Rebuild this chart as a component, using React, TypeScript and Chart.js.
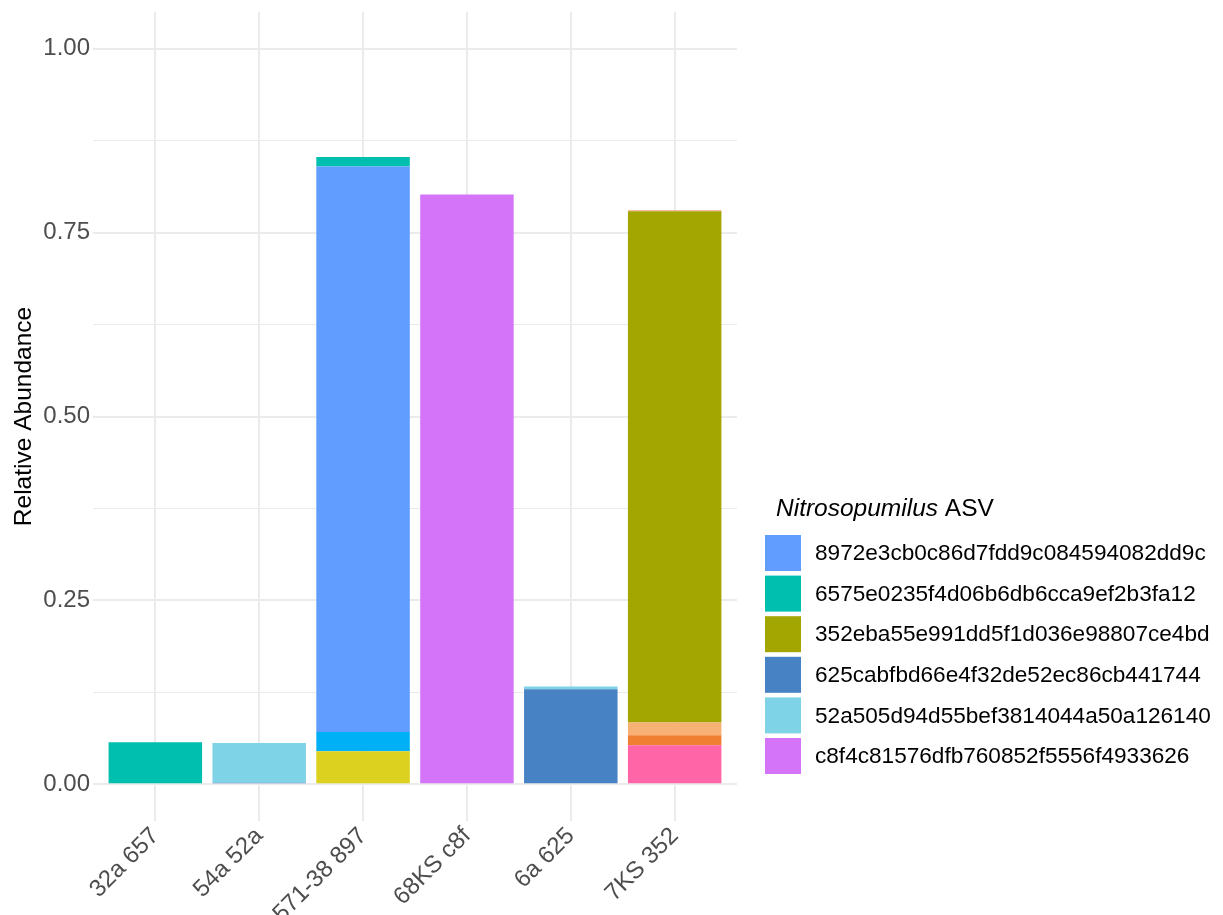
import React, { useEffect, useRef } from "react";
import { Chart, registerables } from "chart.js";

Chart.register(...registerables);

const FONT = "'Liberation Sans', Arial, Helvetica, sans-serif";

// Samples along the x axis
const samples = ["32a 657", "54a 52a", "571-38 897", "68KS c8f", "6a 625", "7KS 352"];

// Relative abundance per ASV, one value per sample (stacked bottom to top)
const otherA = [0, 0, 0.045, 0, 0, 0];
const otherB = [0, 0, 0, 0, 0, 0.053];
const otherC = [0, 0, 0, 0, 0, 0.0135];
const otherD = [0, 0, 0, 0, 0, 0.0175];
const otherE = [0, 0, 0.026, 0, 0, 0];
const asv625 = [0, 0.002, 0, 0, 0.129, 0];
const asv52a = [0, 0.054, 0, 0, 0.004, 0];
const asvC8f = [0, 0, 0, 0.802, 0, 0];
const asv352 = [0, 0, 0, 0, 0, 0.695];
const asv8972 = [0, 0, 0.769, 0, 0, 0];
const asv6575 = [0.057, 0, 0.013, 0, 0, 0];
const otherF = [0, 0, 0, 0, 0, 0.0015];

// Y axis ticks (major labelled, minor between)
const yTicks = [0, 0.125, 0.25, 0.375, 0.5, 0.625, 0.75, 0.875, 1];
const yLabelled = [0, 0.25, 0.5, 0.75, 1];

const legendTitleItalic = "Nitrosopumilus";
const legendTitleRest = " ASV";
const legendItems = [
  "8972e3cb0c86d7fdd9c084594082dd9c",
  "6575e0235f4d06b6db6cca9ef2b3fa12",
  "352eba55e991dd5f1d036e98807ce4bd",
  "625cabfbd66e4f32de52ec86cb441744",
  "52a505d94d55bef3814044a50a126140",
  "c8f4c81576dfb760852f5556f4933626",
];

const series: { label: string; values: number[]; color: string }[] = [
  { label: "other ASV 1", values: otherA, color: "#DBD11E" },
  { label: "other ASV 2", values: otherB, color: "#FF65A7" },
  { label: "other ASV 3", values: otherC, color: "#F07F31" },
  { label: "other ASV 4", values: otherD, color: "#F8B174" },
  { label: "other ASV 5", values: otherE, color: "#00B0F6" },
  { label: legendItems[3], values: asv625, color: "#4682C4" },
  { label: legendItems[4], values: asv52a, color: "#7FD3E6" },
  { label: legendItems[5], values: asvC8f, color: "#D474F8" },
  { label: legendItems[2], values: asv352, color: "#A3A500" },
  { label: legendItems[0], values: asv8972, color: "#619CFF" },
  { label: legendItems[1], values: asv6575, color: "#00BFAF" },
  { label: "other ASV 6", values: otherF, color: "#F4A582" },
];

const asvLegend = {
  id: "asvLegend",
  afterDraw(chart: any) {
    const { ctx, chartArea } = chart;
    const x0 = chartArea.right + 28;
    ctx.save();
    ctx.fillStyle = "#000000";
    ctx.textBaseline = "alphabetic";
    ctx.textAlign = "left";
    ctx.font = `italic 24.5px ${FONT}`;
    ctx.fillText(legendTitleItalic, x0 + 11, 516);
    const w = ctx.measureText(legendTitleItalic).width;
    ctx.font = `24.5px ${FONT}`;
    ctx.fillText(legendTitleRest, x0 + 11 + w, 516);
    legendItems.forEach((name, i) => {
      const s = series.find((d) => d.label === name)!;
      const y = 535 + i * 40.6;
      ctx.fillStyle = s.color;
      ctx.fillRect(x0, y, 36, 36);
      ctx.fillStyle = "#000000";
      ctx.font = `22.6px ${FONT}`;
      ctx.textBaseline = "middle";
      ctx.fillText(name, x0 + 50, y + 19);
    });
    ctx.restore();
  },
};

export default function App() {
  const ref = useRef<HTMLCanvasElement>(null);

  useEffect(() => {
    if (!ref.current) return;
    const chart = new Chart(ref.current, {
      type: "bar",
      data: {
        datasets: series.map((s) => ({
          label: s.label,
          data: s.values.map((v, i) => ({ x: i, y: v })),
          backgroundColor: s.color,
          borderWidth: 0,
          barPercentage: 0.9,
          categoryPercentage: 1,
        })),
      },
      plugins: [asvLegend],
      options: {
        responsive: false,
        animation: false,
        layout: { padding: { top: 12, right: 486, bottom: 0, left: 0 } },
        plugins: {
          legend: { display: false },
          tooltip: { enabled: false },
        },
        scales: {
          x: {
            type: "linear",
            stacked: true,
            offset: false,
            min: -0.6,
            max: 5.6,
            afterBuildTicks: (scale: any) => {
              scale.ticks = samples.map((_, i) => ({ value: i }));
            },
            afterFit: (scale: any) => {
              scale.height = 94;
              scale.paddingLeft = 0;
              scale.paddingRight = 0;
            },
            border: { display: false },
            grid: { color: "#EBEBEB", lineWidth: 2, drawTicks: false, offset: false },
            ticks: {
              autoSkip: false,
              minRotation: 45,
              maxRotation: 45,
              padding: 1,
              color: "#4D4D4D",
              font: { family: FONT, size: 24 },
              callback: (v: any) => samples[Math.round(Number(v))] ?? "",
            },
          },
          y: {
            stacked: true,
            min: -0.05,
            max: 1.05,
            afterBuildTicks: (scale: any) => {
              scale.ticks = yTicks.map((v) => ({ value: v }));
            },
            afterFit: (scale: any) => {
              scale.width = 93;
              scale.paddingTop = 0;
              scale.paddingBottom = 0;
            },
            border: { display: false },
            grid: {
              color: "#EBEBEB",
              drawTicks: false,
              lineWidth: (c: any) =>
                yLabelled.some((m) => Math.abs(m - c.tick?.value) < 1e-9) ? 2 : 1,
            },
            ticks: {
              padding: 3,
              color: "#4D4D4D",
              font: { family: FONT, size: 24 },
              callback: (v: any) =>
                yLabelled.some((m) => Math.abs(m - Number(v)) < 1e-9)
                  ? Number(v).toFixed(2)
                  : "",
            },
            title: {
              display: true,
              text: "Relative Abundance",
              color: "#000000",
              padding: { top: 10, bottom: 0 },
              font: { family: FONT, size: 24.5 },
            },
          },
        },
      },
    } as any);
    return () => chart.destroy();
  }, []);

  return (
    <div style={{ position: "fixed", left: 0, top: 0, width: 1223, height: 915, background: "#ffffff" }}>
      <canvas ref={ref} width={1223} height={915} style={{ display: "block" }} />
    </div>
  );
}
